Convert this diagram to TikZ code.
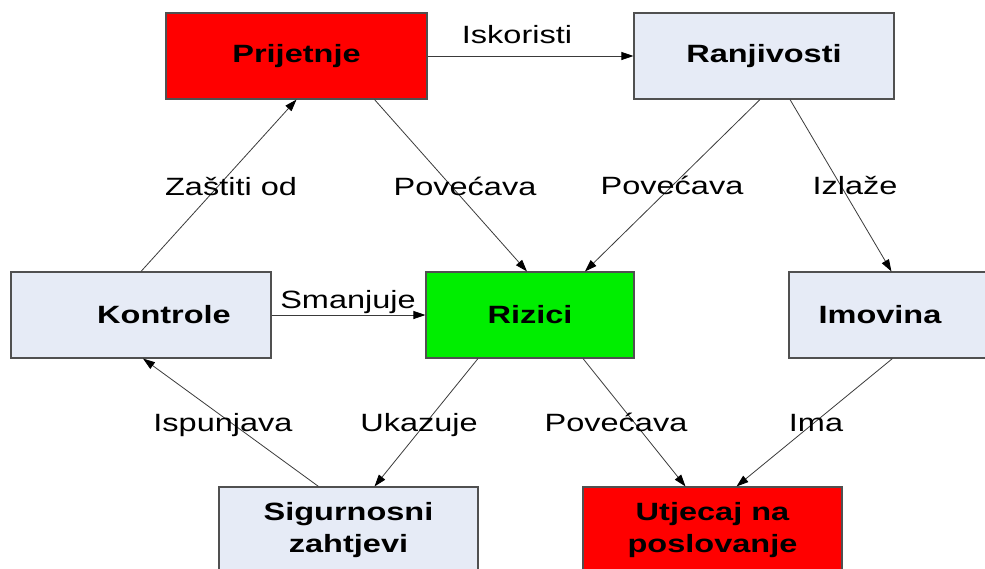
\documentclass[tikz,border=0pt]{standalone}
\usepackage{fontspec}
\setmainfont{Liberation Sans}[FakeStretch=1.3]
\usetikzlibrary{arrows.meta}
\definecolor{boxblue}{HTML}{E6EBF6}
\definecolor{boxred}{HTML}{FF0000}
\definecolor{boxgreen}{HTML}{00EE00}
\definecolor{edgegray}{HTML}{505050}
\definecolor{conngray}{HTML}{3A3A3A}
\begin{document}
\begin{tikzpicture}[x=1pt,y=-1pt,
  box/.style={draw=edgegray, line width=1.1pt, minimum height=86pt, inner sep=0pt,
    font=\fontsize{25}{32}\selectfont\bfseries, align=center},
  bluebox/.style={box, fill=boxblue},
  redbox/.style={box, fill=boxred},
  greenbox/.style={box, fill=boxgreen},
  conn/.style={draw=conngray, line width=0.8pt, -{Triangle[length=12pt,width=8pt,color=black]}},
  lbl/.style={font=\fontsize{25}{30}\selectfont, anchor=base, inner sep=0pt}]
\useasboundingbox (0,0) rectangle (985,568);
\clip (0,0) rectangle (985,568);

% boxes
\node[redbox, minimum width=261pt] (pri) at (296.5,56) {Prijetnje};
\node[bluebox, minimum width=260pt] (ran) at (764,56) {Ranjivosti};
\node[bluebox, minimum width=260pt] (kon) at (141,315) {\hspace*{46pt}Kontrole};
\node[greenbox, minimum width=208pt] (riz) at (530,315) {Rizici};
\node[bluebox, minimum width=260pt] (imo) at (919,315) {Imovina\hspace*{78pt}};
\node[bluebox, minimum width=259pt] (sig) at (348.5,530) {Sigurnosni\\zahtjevi};
\node[redbox, minimum width=259pt] (utj) at (712.5,530) {Utjecaj na\\poslovanje};

% connectors
\draw[conn] (pri.east) -- (ran.west);
\draw[conn] (kon.north) -- (pri.south);
\draw[conn] ([xshift=78pt]pri.south) -- ([xshift=-3pt]riz.north);
\draw[conn] ([xshift=-4pt]ran.south) -- ([xshift=55pt]riz.north);
\draw[conn] ([xshift=26pt]ran.south) -- ([xshift=103pt]imo.north west);
\draw[conn] (kon.east) -- (riz.west);
\draw[conn] ([xshift=-30pt]sig.north) -- ([xshift=2pt]kon.south);
\draw[conn] ([xshift=-52pt]riz.south) -- ([xshift=26pt]sig.north);
\draw[conn] ([xshift=53pt]riz.south) -- ([xshift=-27pt]utj.north);
\draw[conn] ([xshift=104pt]imo.south west) -- ([xshift=24pt]utj.north);

% labels
\node[lbl] (l1) at (517,43) {Iskoristi};
\node[lbl] (l2) at (231,195) {Zaštiti od};
\node[lbl] (l3) at (465,195) {Povećava};
\node[lbl] (l4) at (672,194) {Povećava};
\node[lbl] (l5) at (855,194) {Izlaže};
\node[lbl] (l6) at (348,308) {Smanjuje};
\node[lbl] (l7) at (223,431) {Ispunjava};
\node[lbl] (l8) at (419,431) {Ukazuje};
\node[lbl] (l9) at (616,431) {Povećava};
\node[lbl] (l10) at (816,431) {Ima};
\end{tikzpicture}
\end{document}
